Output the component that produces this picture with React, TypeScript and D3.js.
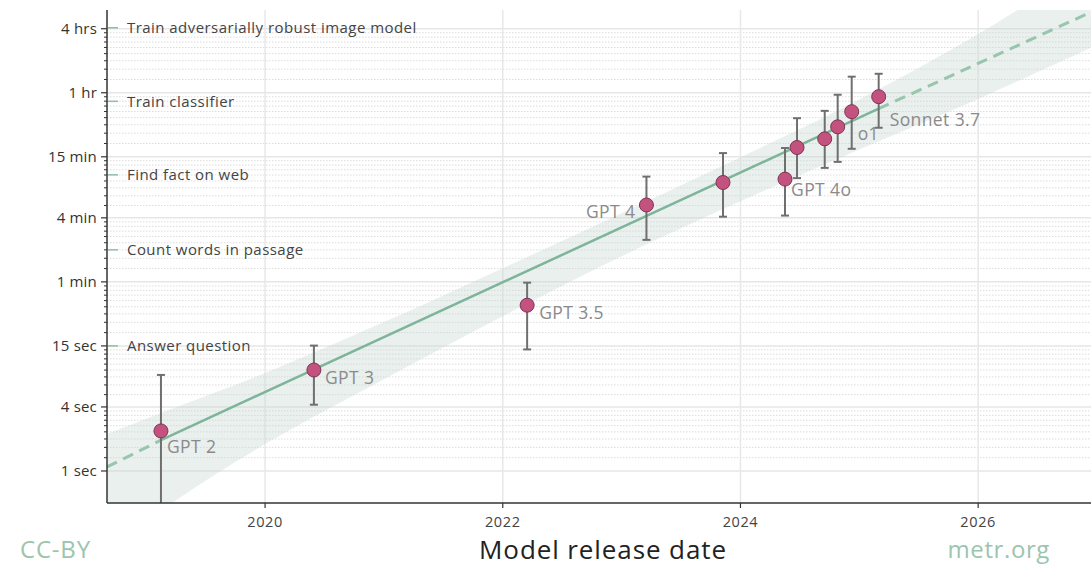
import React from "react";
import * as d3 from "d3";

// ---------- data ----------
const modelNames = ["GPT 2", "GPT 3", "GPT 3.5", "GPT 4", "", "GPT 4o", "", "", "", "o1", "Sonnet 3.7"];
const modelDates = [2019.124, 2020.411, 2022.205, 2023.209, 2023.853, 2024.375, 2024.476, 2024.709, 2024.818, 2024.936, 2025.163];
const modelHorizon = [2.38, 8.9, 36.2, 317, 516, 555, 1100, 1327, 1722, 2390, 3307]; // seconds
const modelLow = [0.2, 4.2, 13.9, 149, 246, 252, 567, 708, 806, 1070, 1688];
const modelHigh = [8.0, 15.1, 59, 586, 975, 1088, 2076, 2433, 3449, 5100, 5430];

const trendDates = [2018.67, 2019.124, 2025.163, 2027.0];
const trendSeconds = [1.09, 1.95, 2550, 21870];

const bandDates = [2018.67, 2019.225, 2020.0, 2021.0, 2022.0, 2023.0, 2024.0, 2025.0, 2026.0, 2027.0];
const bandUpper = [2.23, 3.87, 8.33, 25.1, 80.7, 265, 889, 3112, 12860, 63700];
const bandLower = [0.173, 0.506, 1.79, 7.3, 28.5, 104.4, 343, 1055, 3150, 10120];

const taskNames = ["Answer question", "Count words in passage", "Find fact on web", "Train classifier", "Train adversarially robust image model"];
const taskSeconds = [15, 120, 609, 2990, 14700];

const yTickValues = [1, 4, 15, 60, 240, 900, 3600, 14400];
const yTickLabels = ["1 sec", "4 sec", "15 sec", "1 min", "4 min", "15 min", "1 hr", "4 hrs"];
const xTickYears = [2020, 2022, 2024, 2026];

// label placement (style, not data)
const labelOffsets: Record<string, { dx: number; dy: number; anchor: string }> = {
  "GPT 2": { dx: 6, dy: 22, anchor: "start" },
  "GPT 3": { dx: 11, dy: 14, anchor: "start" },
  "GPT 3.5": { dx: 12, dy: 14, anchor: "start" },
  "GPT 4": { dx: -11, dy: 13, anchor: "end" },
  "GPT 4o": { dx: 6, dy: 17, anchor: "start" },
  "o1": { dx: 6, dy: 28, anchor: "start" },
  "Sonnet 3.7": { dx: 11, dy: 29, anchor: "start" },
};

const W = 1091;
const H = 566;
const M = { left: 107, top: 10, bottom: 503, right: 1097 };
const FONT = "'Open Sans', 'DejaVu Sans', sans-serif";

export default function App() {
  const x = d3.scaleLinear().domain([2018.67, 2027.0]).range([M.left, M.right]);
  const y = d3.scaleLog().domain([0.5, 21600]).range([M.bottom, M.top]);

  // minor ticks: 8 linear subdivisions between major ticks
  const minor: number[] = [];
  for (let i = 0; i < yTickValues.length - 1; i++) {
    const a = yTickValues[i], b = yTickValues[i + 1];
    for (let k = 1; k < 9; k++) minor.push(a + (k * (b - a)) / 9);
  }

  const bandArea = d3
    .area<number>()
    .x((i) => x(bandDates[i]))
    .y0((i) => y(bandLower[i]))
    .y1((i) => y(bandUpper[i]))
    .curve(d3.curveCatmullRom);

  const line = d3
    .line<number>()
    .x((i) => x(trendDates[i]))
    .y((i) => y(trendSeconds[i]));

  const plotRight = W;

  return (
    <div style={{ position: "absolute", left: 0, top: 0 }}>
      <svg width={W} height={H} style={{ display: "block", background: "#fff" }}>
        <defs>
          <clipPath id="plot">
            <rect x={M.left} y={M.top} width={plotRight - M.left} height={M.bottom - M.top} />
          </clipPath>
        </defs>

        {/* grid */}
        <g>
          {minor.map((v, i) => (
            <line key={"mg" + i} x1={M.left} x2={plotRight} y1={y(v)} y2={y(v)} stroke="#dcdcdc" strokeWidth={1} strokeDasharray="1.5,1.5" />
          ))}
          {yTickValues.map((v, i) => (
            <line key={"g" + i} x1={M.left} x2={plotRight} y1={y(v)} y2={y(v)} stroke="#e6e6e6" strokeWidth={1.5} />
          ))}
          {xTickYears.map((yr) => (
            <line key={"xg" + yr} x1={x(yr)} x2={x(yr)} y1={M.top} y2={M.bottom} stroke="#e8e8e8" strokeWidth={1.5} />
          ))}
        </g>

        <g clipPath="url(#plot)">
          <path d={bandArea(bandDates.map((_, i) => i)) || ""} fill="#c9d8d0" fillOpacity={0.38} />
          <path d={line([0, 1]) || ""} fill="none" stroke="#98c5ad" strokeWidth={3} strokeDasharray="11,7" />
          <path d={line([1, 2]) || ""} fill="none" stroke="#7db49a" strokeWidth={2.5} />
          <path d={line([2, 3]) || ""} fill="none" stroke="#98c5ad" strokeWidth={3} strokeDasharray="11,7" />

          {/* error bars */}
          {modelDates.map((d, i) => (
            <g key={"eb" + i} stroke="#6f6f6f" strokeWidth={2}>
              <line x1={x(d)} x2={x(d)} y1={y(modelLow[i])} y2={y(modelHigh[i])} />
              <line x1={x(d) - 4} x2={x(d) + 4} y1={y(modelHigh[i])} y2={y(modelHigh[i])} />
              <line x1={x(d) - 4} x2={x(d) + 4} y1={y(modelLow[i])} y2={y(modelLow[i])} />
            </g>
          ))}
          {modelDates.map((d, i) => (
            <circle key={"pt" + i} cx={x(d)} cy={y(modelHorizon[i])} r={7} fill="#c4527f" stroke="#7d3454" strokeWidth={1} />
          ))}
        </g>

        {/* model labels */}
        {modelNames.map((n, i) =>
          n ? (
            <text
              key={"ml" + i}
              x={x(modelDates[i]) + labelOffsets[n].dx}
              y={y(modelHorizon[i]) + labelOffsets[n].dy}
              textAnchor={labelOffsets[n].anchor as any}
              fontFamily={FONT}
              fontSize={17.5}
              letterSpacing={0.4}
              fill="#8a8a8a"
            >
              {n}
            </text>
          ) : null
        )}

        {/* task annotations */}
        {taskNames.map((t, i) => (
          <g key={"task" + i}>
            <line x1={M.left + 1} x2={M.left + 11} y1={y(taskSeconds[i])} y2={y(taskSeconds[i])} stroke="#8fbfa5" strokeWidth={1.5} />
            <text x={127} y={y(taskSeconds[i])} dy="0.35em" fontFamily={FONT} fontSize={15} letterSpacing={0.45} fill="#444">
              {t}
            </text>
          </g>
        ))}

        {/* axes */}
        <line x1={M.left} x2={M.left} y1={M.top} y2={M.bottom} stroke="#333" strokeWidth={1.5} />
        <line x1={M.left} x2={plotRight} y1={M.bottom} y2={M.bottom} stroke="#333" strokeWidth={1.5} />
        {minor.map((v, i) => (
          <line key={"mt" + i} x1={M.left - 3} x2={M.left} y1={y(v)} y2={y(v)} stroke="#333" strokeWidth={1} />
        ))}
        {yTickValues.map((v, i) => (
          <g key={"yt" + i}>
            <line x1={M.left - 6} x2={M.left} y1={y(v)} y2={y(v)} stroke="#333" strokeWidth={1.2} />
            <text x={97} y={y(v)} dy="0.35em" textAnchor="end" fontFamily={FONT} fontSize={15} letterSpacing={0.2} fill="#333">
              {yTickLabels[i]}
            </text>
          </g>
        ))}
        {xTickYears.map((yr) => (
          <g key={"xt" + yr}>
            <line x1={x(yr)} x2={x(yr)} y1={M.bottom} y2={M.bottom + 5} stroke="#333" strokeWidth={1.2} />
            <text x={x(yr)} y={527} textAnchor="middle" fontFamily={FONT} fontSize={14.5} letterSpacing={0.6} fill="#444">
              {yr}
            </text>
          </g>
        ))}

        <text x={603} y={559} textAnchor="middle" fontFamily={FONT} fontSize={26} letterSpacing={0.9} fill="#222">
          Model release date
        </text>
        <text x={20} y={558} fontFamily={FONT} fontSize={24} letterSpacing={0.8} fill="#9cc5ae">
          CC-BY
        </text>
        <text x={1050} y={558} textAnchor="end" fontFamily={FONT} fontSize={24} letterSpacing={0.6} fill="#9cc5ae">
          metr.org
        </text>
      </svg>
    </div>
  );
}
